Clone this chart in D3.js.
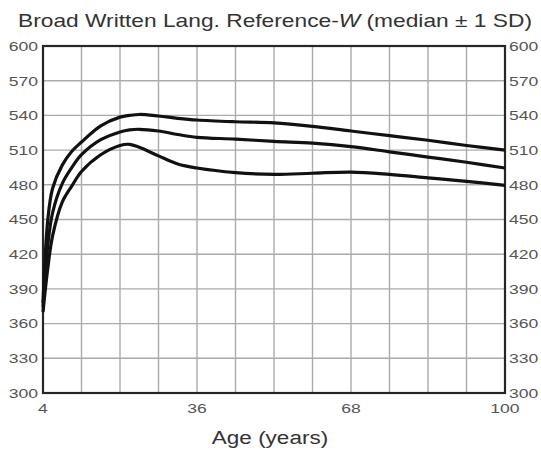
<!DOCTYPE html>
<html>
<head>
<meta charset="utf-8">
<script src="https://cdn.jsdelivr.net/npm/d3@7"></script>
<style>
  body { margin: 0; background: #fff; }
  svg { display: block; font-family: "Liberation Sans", Arial, sans-serif; }
</style>
</head>
<body>
<div id="chart"></div>
<script>
// ages (years)
const ages = [4, 5, 6, 8, 10, 12, 16, 20, 22, 24, 28, 32, 36, 44, 52, 60, 68, 76, 84, 92, 100]
// median + 1 SD
const upper = [378, 450, 477, 497, 509, 517, 531, 538.5, 540, 540.8, 539.5, 537.5, 536, 534.5, 533.5, 530.5, 526.5, 522.5, 518.5, 514, 510]
// median
const median = [374, 428, 456, 481, 495, 506, 519, 525.7, 527.5, 528, 526.5, 523.5, 521, 519.5, 517.5, 516, 513, 508.5, 504, 499.5, 494.5]
// median - 1 SD
const lower = [370, 408, 436, 465, 479, 491.5, 506, 514, 515, 512.5, 505, 498, 494.5, 490.5, 489, 490, 491, 489, 486, 483, 479.5]

const yTicks = [300, 330, 360, 390, 420, 450, 480, 510, 540, 570, 600]
const xLabels = [4, 36, 68, 100]
const xGrid = d3.range(4, 101, 8)

const width = 541
const height = 453
const margin = { top: 46, right: 36, bottom: 60, left: 43 }

const svg = d3.select('#chart').append('svg')
    .attr('width', width).attr('height', height)

const x = d3.scaleLinear().domain([4, 100]).range([margin.left, width - margin.right])
const y = d3.scaleLinear().domain([300, 600]).range([height - margin.bottom, margin.top])

// stretch text horizontally like the scanned original
const stretch = (sel, k) => sel.each(function () {
    const w = this.getComputedTextLength()
    d3.select(this).attr('textLength', w * k).attr('lengthAdjust', 'spacingAndGlyphs')
})

// grid
svg.append('g').selectAll('line').data(yTicks).enter().append('line')
    .attr('x1', x(4)).attr('x2', x(100))
    .attr('y1', d => y(d)).attr('y2', d => y(d))
    .attr('stroke', '#ababab').attr('stroke-width', 1.4)

svg.append('g').selectAll('line').data(xGrid).enter().append('line')
    .attr('x1', d => x(d)).attr('x2', d => x(d))
    .attr('y1', y(300)).attr('y2', y(600))
    .attr('stroke', '#ababab').attr('stroke-width', 1.4)

// frame
svg.append('rect')
    .attr('x', x(4)).attr('y', y(600))
    .attr('width', x(100) - x(4)).attr('height', y(300) - y(600))
    .attr('fill', 'none').attr('stroke', '#262626').attr('stroke-width', 2.2)

// curves
const line = d3.line()
    .x((d, i) => x(ages[i]))
    .y(d => y(d))
    .curve(d3.curveCatmullRom.alpha(0.5))

svg.append('g').selectAll('path').data([upper, median, lower]).enter().append('path')
    .attr('d', line)
    .attr('fill', 'none').attr('stroke', '#111').attr('stroke-width', 3.2)
    .attr('stroke-linejoin', 'round')

// y labels both sides
svg.append('g').selectAll('text').data(yTicks).enter().append('text')
    .attr('x', x(4) - 5).attr('y', d => y(d)).attr('dy', '0.36em')
    .attr('text-anchor', 'end').attr('font-size', 13.5).attr('fill', '#555')
    .text(d => d).call(stretch, 1.3)

svg.append('g').selectAll('text').data(yTicks).enter().append('text')
    .attr('x', x(100) + 4).attr('y', d => y(d)).attr('dy', '0.36em')
    .attr('text-anchor', 'start').attr('font-size', 13.5).attr('fill', '#555')
    .text(d => d).call(stretch, 1.3)

// x labels
svg.append('g').selectAll('text').data(xLabels).enter().append('text')
    .attr('x', d => x(d)).attr('y', y(300) + 15).attr('dy', '0.36em')
    .attr('text-anchor', 'middle').attr('font-size', 13.5).attr('fill', '#555')
    .text(d => d).call(stretch, 1.3)

// axis title
svg.append('text')
    .attr('x', 270).attr('y', 444)
    .attr('text-anchor', 'middle').attr('font-size', 18).attr('fill', '#333')
    .text('Age (years)').call(stretch, 1.25)

// chart title
const title = svg.append('text')
    .attr('x', 275).attr('y', 27)
    .attr('text-anchor', 'middle').attr('font-size', 18.5).attr('fill', '#333')
title.append('tspan').text('Broad Written Lang. Reference-')
title.append('tspan').attr('font-style', 'italic').text('W')
title.append('tspan').text(' (median \u00B1 1 SD)')
title.attr('textLength', 514).attr('lengthAdjust', 'spacingAndGlyphs')
</script>
</body>
</html>
